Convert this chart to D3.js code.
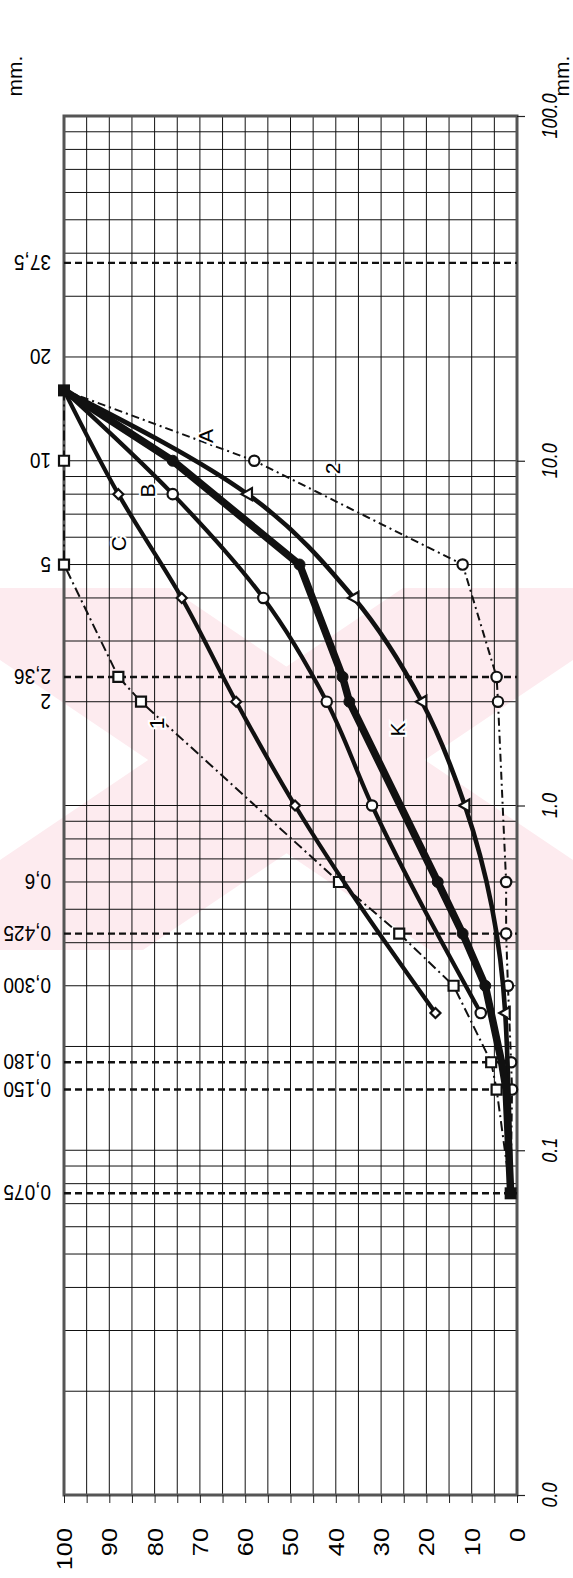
<!DOCTYPE html>
<html>
<head>
<meta charset="utf-8">
<script src="https://cdn.jsdelivr.net/npm/d3@7"></script>
<style>
  body { margin: 0; background: #fff; }
  svg { display: block; }
</style>
</head>
<body>
<svg id="chart"></svg>
<script>
// Grading curves: sieve size (mm, log) vs. percent passing, drawn rotated

// K - thick curve, filled dots
const sizesK = [16, 10, 5, 2.36, 2, 0.6, 0.425, 0.3, 0.18, 0.15, 0.075];
const passK  = [100, 76, 48, 38.5, 37, 17.5, 12, 7, 3.4, 2.4, 1.4];
// A - triangles
const sizesA = [16, 8, 4, 2, 1, 0.25, 0.075];
const passA  = [100, 59.5, 36, 21, 11.5, 2.6, 1.4];
// B - open circles
const sizesB = [16, 8, 4, 2, 1, 0.25];
const passB  = [100, 76, 56, 42, 32, 8];
// C - diamonds
const sizesC = [16, 8, 4, 2, 1, 0.25];
const passC  = [100, 88, 74, 62, 49, 18];
// limit curve 1 - squares
const sizes1 = [16, 10, 5, 2.36, 2, 0.6, 0.425, 0.3, 0.18, 0.15, 0.075];
const pass1  = [100, 100, 100, 88, 83, 39.3, 26, 14, 5.7, 4.5, 1.4];
// limit curve 2 - circles
const sizes2 = [16, 10, 5, 2.36, 2, 0.6, 0.425, 0.3, 0.18, 0.15, 0.075];
const pass2  = [100, 58, 12, 4.5, 4.2, 2.4, 2.4, 2, 1.3, 1.1, 1.4];

// sieve marks on the left side
const sieveSizes  = [37.5, 20, 10, 5, 2.36, 2, 0.6, 0.425, 0.3, 0.18, 0.15, 0.075];
const sieveLabels = ["37,5", "20", "10", "5", "2,36", "2", "0,6", "0,425", "0,300", "0,180", "0,150", "0,075"];
const dashedSieves = [37.5, 2.36, 0.425, 0.18, 0.15, 0.075];

// axis ticks
const decadeTicks  = [100, 10, 1, 0.1, 0.01];
const decadeLabels = ["100.0", "10.0", "1.0", "0.1", "0.0"];
const passTicks = [100, 90, 80, 70, 60, 50, 40, 30, 20, 10, 0];

// curve names and where they sit (percent, mm)
const curveNames = ["A", "B", "C", "2", "1", "K"];
const namePass   = [68.7, 81.5, 87.9, 40.8, 79.7, 26.3];
const nameSize   = [11.8, 8.2, 5.75, 9.5, 1.73, 1.66];

const W = 573, H = 1578;
const plot = {left: 64, right: 517, top: 116, bottom: 1495};

const svg = d3.select("#chart")
    .attr("width", W)
    .attr("height", H)
    .style("font-family", "'Liberation Sans', Arial, sans-serif");

const x = d3.scaleLinear().domain([100, 0]).range([plot.left, plot.right]);
const y = d3.scaleLog().domain([100, 0.01]).range([plot.top, plot.bottom]);

// faint pink watermark behind everything
const wm = svg.append("g").attr("fill", "#fdebef");
wm.append("polygon").attr("points", "0,588 170,588 573,860 573,950 430,950 0,660");
wm.append("polygon").attr("points", "573,588 403,588 0,860 0,950 143,950 573,660");

// grid
const grid = svg.append("g").attr("stroke", "#111").attr("stroke-width", 1);
grid.selectAll(".h")
    .data(y.ticks())
    .enter().append("line")
    .attr("x1", plot.left).attr("x2", plot.right)
    .attr("y1", d => y(d)).attr("y2", d => y(d));
grid.selectAll(".v")
    .data(d3.range(5, 100, 5))
    .enter().append("line")
    .attr("x1", d => x(d)).attr("x2", d => x(d))
    .attr("y1", plot.top).attr("y2", plot.bottom);

// frame
svg.append("rect")
    .attr("x", plot.left).attr("y", plot.top)
    .attr("width", plot.right - plot.left).attr("height", plot.bottom - plot.top)
    .attr("fill", "none")
    .attr("stroke", "#555")
    .attr("stroke-width", 3);

// ticks
svg.append("g")
    .attr("transform", `translate(0,${plot.bottom})`)
    .call(d3.axisBottom(x).tickValues(d3.range(0, 101, 5)).tickSize(8).tickFormat(""))
    .call(g => g.select(".domain").remove())
    .call(g => g.selectAll("line").attr("stroke", "#222"));
svg.append("g")
    .attr("transform", `translate(${plot.right},0)`)
    .call(d3.axisRight(y).tickValues(decadeTicks).tickSize(8).tickFormat(""))
    .call(g => g.select(".domain").remove())
    .call(g => g.selectAll("line").attr("stroke", "#222").attr("stroke-width", 1.2));

// dashed sieve lines
svg.append("g").selectAll("line")
    .data(dashedSieves)
    .enter().append("line")
    .attr("x1", plot.left).attr("x2", plot.right)
    .attr("y1", d => y(d)).attr("y2", d => y(d))
    .attr("stroke", "#111")
    .attr("stroke-width", 2.4)
    .attr("stroke-dasharray", "7,4");

// labels
svg.append("g").selectAll("text")
    .data(passTicks)
    .enter().append("text")
    .attr("transform", d => `translate(${x(d)},1528) rotate(-90) scale(1.15,1)`)
    .attr("text-anchor", "end")
    .attr("dy", "0.36em")
    .attr("font-size", 22)
    .text(d => d);

svg.append("g").selectAll("text")
    .data(decadeTicks)
    .enter().append("text")
    .attr("transform", d => `translate(549,${y(d)}) rotate(-90) scale(0.95,1.2)`)
    .attr("text-anchor", "middle")
    .attr("dy", "0.36em")
    .attr("font-size", 19)
    .attr("font-style", "italic")
    .text((d, i) => decadeLabels[i]);

svg.append("g").selectAll("text")
    .data(sieveSizes)
    .enter().append("text")
    .attr("transform", d => `translate(51,${y(d)}) rotate(180) scale(1,1.15)`)
    .attr("text-anchor", "start")
    .attr("dy", "0.36em")
    .attr("font-size", 19)
    .text((d, i) => sieveLabels[i]);

[14, 561].forEach(cx => {
    svg.append("text")
        .attr("transform", `translate(${cx},76) rotate(-90)`)
        .attr("text-anchor", "middle")
        .attr("dy", "0.36em")
        .attr("font-size", 21)
        .text("mm.");
});

// curves
const series = [
    {sizes: sizes1, pass: pass1, width: 2, dash: "10,4,2,4", curve: d3.curveLinear, marker: "square"},
    {sizes: sizes2, pass: pass2, width: 2, dash: "8,4,2,4", curve: d3.curveLinear, marker: "circle"},
    {sizes: sizesC, pass: passC, width: 4.2, dash: null, curve: d3.curveMonotoneY, marker: "diamond"},
    {sizes: sizesB, pass: passB, width: 4.2, dash: null, curve: d3.curveMonotoneY, marker: "circle"},
    {sizes: sizesA, pass: passA, width: 4.6, dash: null, curve: d3.curveMonotoneY, marker: "triangle"},
    {sizes: sizesK, pass: passK, width: 7.5, dash: null, curve: d3.curveLinear, marker: "dot"}
];

const line = d3.line()
    .x(d => x(d[1]))
    .y(d => y(d[0]));

const symbols = {
    square: "M-5,-5H5V5H-5Z",
    circle: d3.symbol().type(d3.symbolCircle).size(85)(),
    diamond: "M0,-5L5,0L0,5L-5,0Z",
    triangle: "M-6,0L4.5,-6L4.5,6Z",
    dot: d3.symbol().type(d3.symbolCircle).size(95)()
};

series.forEach(s => {
    const pts = s.sizes.map((d, i) => [d, s.pass[i]]);
    svg.append("path")
        .datum(pts)
        .attr("fill", "none")
        .attr("stroke", "#111")
        .attr("stroke-width", s.width)
        .attr("stroke-linejoin", "round")
        .attr("stroke-dasharray", s.dash)
        .attr("d", line.curve(s.curve));

    // markers, skipping the shared start and end points
    const marks = pts.filter(p => p[0] !== 16 && p[0] !== 0.075 &&
        !(s.marker === "dot" && (p[0] === 0.18 || p[0] === 0.15)));
    svg.append("g").selectAll("path")
        .data(marks)
        .enter().append("path")
        .attr("transform", d => `translate(${x(d[1])},${y(d[0])})`)
        .attr("d", symbols[s.marker])
        .attr("fill", s.marker === "dot" ? "#111" : "#fff")
        .attr("stroke", "#111")
        .attr("stroke-width", s.marker === "dot" ? 1 : 2.2);
});

// shared filled squares at the ends of K
svg.append("g").selectAll("rect")
    .data([[sizesK[0], passK[0]], [sizesK[sizesK.length - 1], passK[passK.length - 1]]])
    .enter().append("rect")
    .attr("x", d => x(d[1]) - 6)
    .attr("y", d => y(d[0]) - 6)
    .attr("width", 12).attr("height", 12)
    .attr("fill", "#111");

// curve names
svg.append("g").selectAll("text")
    .data(curveNames)
    .enter().append("text")
    .attr("transform", (d, i) => `translate(${x(namePass[i])},${y(nameSize[i])}) rotate(-90)`)
    .attr("text-anchor", "middle")
    .attr("dy", "0.36em")
    .attr("font-size", 21)
    .style("paint-order", "stroke")
    .attr("stroke", "#fff")
    .attr("stroke-width", 4)
    .text(d => d);
</script>
</body>
</html>
